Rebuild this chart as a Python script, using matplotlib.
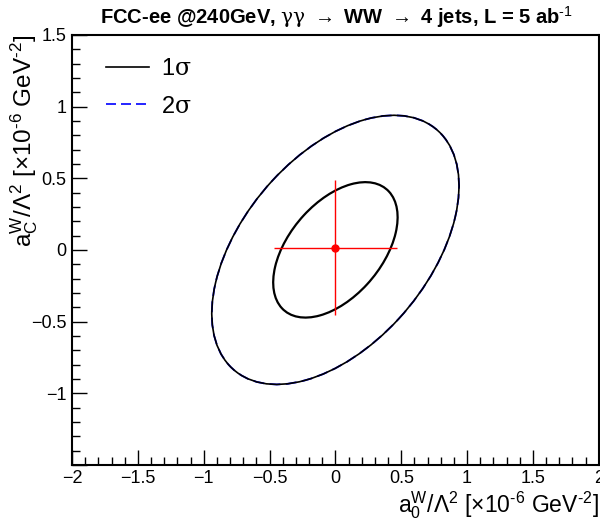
import matplotlib
matplotlib.use("Agg")
import matplotlib.pyplot as plt
from matplotlib.patches import Ellipse
from matplotlib.lines import Line2D
from matplotlib.ticker import MultipleLocator

plt.rcParams['font.family'] = ['Liberation Sans', 'DejaVu Sans']
plt.rcParams['mathtext.fontset'] = 'custom'
plt.rcParams['mathtext.rm'] = 'Liberation Sans'
plt.rcParams['mathtext.it'] = 'DejaVu Serif'   # greek letters like ROOT's symbol font
plt.rcParams['mathtext.default'] = 'regular'

# best fit point and its errors
best_x = 0.0
best_y = 0.015
err_x = 0.47
err_y = 0.47

# contour ellipses (center, full width, full height, angle in deg)
center = (0.0, 0.0)
ell_1s = [1.15, 0.68, 45.0]
ell_2s = [2.28, 1.36, 45.0]

xticks = [-2, -1.5, -1, -0.5, 0, 0.5, 1, 1.5, 2]
xtick_labels = ['\u22122', '\u22121.5', '\u22121', '\u22120.5', '0', '0.5', '1', '1.5', '2']
yticks = [-1.5, -1, -0.5, 0, 0.5, 1, 1.5]
ytick_labels = ['', '\u22121', '\u22120.5', '0', '0.5', '1', '1.5']

fig = plt.figure(figsize=(6, 5.2), dpi=100)
ax = fig.add_axes([0.12, 0.106, 0.878, 0.827])

# 2 sigma: blue dashed under black line
e2b = Ellipse(center, ell_2s[0], ell_2s[1], angle=ell_2s[2], fill=False,
              edgecolor='blue', lw=1.3, ls=(0, (6, 3)))
ax.add_patch(e2b)
e2 = Ellipse(center, ell_2s[0], ell_2s[1], angle=ell_2s[2], fill=False,
             edgecolor='black', lw=1.2)
ax.add_patch(e2)
e1 = Ellipse(center, ell_1s[0], ell_1s[1], angle=ell_1s[2], fill=False,
             edgecolor='black', lw=1.6)
ax.add_patch(e1)

ax.errorbar([best_x], [best_y], xerr=[err_x], yerr=[err_y], fmt='o',
            color='red', ms=5, elinewidth=1.0, capsize=0)

ax.set_xlim(-2, 2)
ax.set_ylim(-1.5, 1.5)
ax.set_xticks(xticks)
ax.set_xticklabels(xtick_labels)
ax.set_yticks(yticks)
ax.set_yticklabels(ytick_labels)
ax.xaxis.set_minor_locator(MultipleLocator(0.1))
ax.yaxis.set_minor_locator(MultipleLocator(0.1))
ax.tick_params(which='both', direction='in', top=False, right=False,
               labelsize=13, width=1.0)
ax.tick_params(which='major', length=11, pad=4)
ax.tick_params(which='minor', length=5.5)
for s in ax.spines.values():
    s.set_linewidth(1.5)

ax.set_xlabel(r'a$_0^{W}$/$\Lambda^2$ [$\times$10$^{\text{-6}}$ GeV$^{\text{-2}}$]',
              fontsize=16.5, loc='right', labelpad=1)
ax.set_ylabel(r'a$_C^{W}$/$\Lambda^2$ [$\times$10$^{\text{-6}}$ GeV$^{\text{-2}}$]',
              fontsize=17.5, loc='top')
ax.yaxis.set_label_coords(-0.06, 1.0)

fig.text(0.56, 0.967,
         r'FCC-ee @240GeV, $\mathit{\gamma\gamma}$ $\rightarrow$ WW $\rightarrow$ 4 jets, L = 5 ab$^{\text{-1}}$',
         ha='center', va='center', fontsize=14.5, fontweight='bold')

handles = [Line2D([], [], color='black', lw=1.2),
           Line2D([], [], color='blue', lw=1.2, ls=(0, (6, 3)))]
ax.legend(handles, [r'1$\mathit{\sigma}$', r'2$\mathit{\sigma}$'], loc='upper left',
          bbox_to_anchor=(0.025, 0.995), frameon=False, fontsize=17,
          handlelength=1.8, labelspacing=0.65, handletextpad=0.5)

fig.savefig('out.png', dpi=100)
